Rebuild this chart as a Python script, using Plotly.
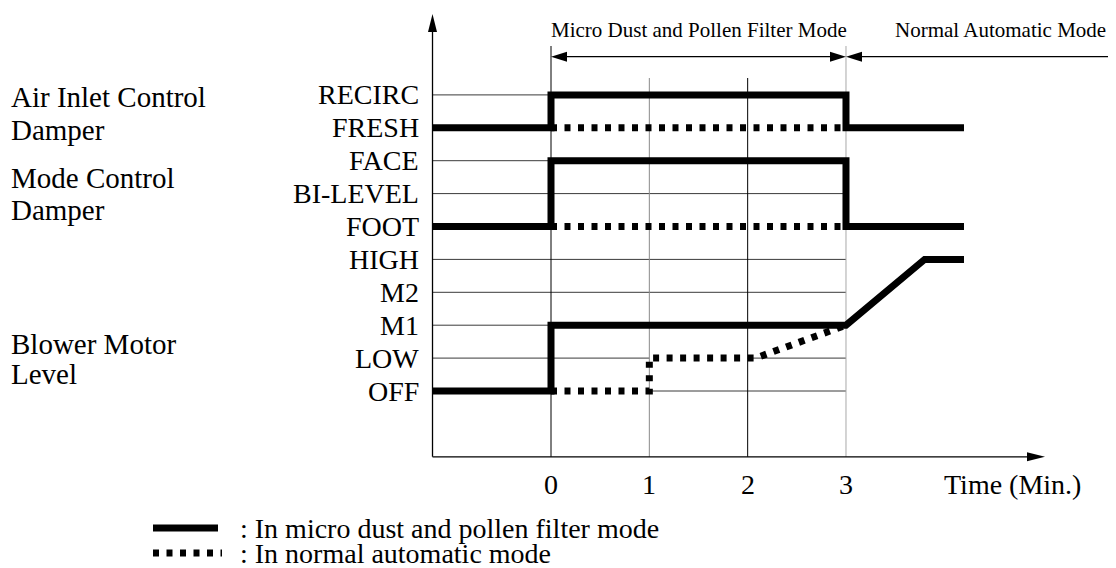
import plotly.graph_objects as go

# ---------------- data ----------------
levels = ["OFF", "LOW", "M1", "M2", "HIGH", "FOOT", "BI-LEVEL", "FACE", "FRESH", "RECIRC"]
time_ticks = [0, 1, 2, 3]
time_tick_labels = ["0", "1", "2", "3"]

group_labels = ["Air Inlet Control", "Damper", "Mode Control", "Damper",
                "Blower Motor", "Level"]

# micro dust and pollen filter mode (solid)
inlet_filter_t = [-1.2, 0, 0, 3, 3, 4.2]
inlet_filter_v = ["FRESH", "FRESH", "RECIRC", "RECIRC", "FRESH", "FRESH"]
mode_filter_t = [-1.2, 0, 0, 3, 3, 4.2]
mode_filter_v = ["FOOT", "FOOT", "FACE", "FACE", "FOOT", "FOOT"]
blower_filter_t = [-1.2, 0, 0, 3, 3.8, 4.2]
blower_filter_v = ["OFF", "OFF", "M1", "M1", "HIGH", "HIGH"]

# normal automatic mode (dotted)
inlet_normal_t = [0, 3]
inlet_normal_v = ["FRESH", "FRESH"]
mode_normal_t = [0, 3]
mode_normal_v = ["FOOT", "FOOT"]
blower_normal_t = [0, 1, 1, 2.08, 3]
blower_normal_v = ["OFF", "OFF", "LOW", "LOW", "M1"]

# thin level guide lines: (level, t_from, t_to)
guide_spans = [("RECIRC", -1.2, 0), ("FACE", -1.2, 0), ("BI-LEVEL", -1.2, 3),
               ("HIGH", -1.2, 3), ("M2", -1.2, 3), ("M1", -1.2, 3),
               ("LOW", -1.2, 1), ("LOW", 2, 3), ("OFF", 1, 3)]

# ---------------- geometry helpers ----------------
W, H = 1116, 568
PAGE_OFF = 8                      # page body margin of the html page
X0_PX, PX_T = 551.0, 98.33        # page pixel of t=0, pixels per minute
Y0_PX, PX_L = 391.0, 32.9         # page pixel of OFF level, pixels per level
T_AXIS = -1.205                   # time where vertical axis sits
L_AXIS = -2.0                     # level where time axis sits

def lv(name):
    return levels.index(name)

def px_t(px):
    return (px - X0_PX) / PX_T

def py_l(py):
    return (Y0_PX - py) / PX_L

def head(tx, ty, direction, length, width):
    hl = width / 2.0
    if direction == "up":
        by = ty - length / PX_L
        return f"M{tx},{ty} L{tx - hl / PX_T},{by} L{tx + hl / PX_T},{by} Z"
    if direction == "right":
        bx = tx - length / PX_T
        return f"M{tx},{ty} L{bx},{ty - hl / PX_L} L{bx},{ty + hl / PX_L} Z"
    if direction == "left":
        bx = tx + length / PX_T
        return f"M{tx},{ty} L{bx},{ty - hl / PX_L} L{bx},{ty + hl / PX_L} Z"

FONT = "Liberation Serif, Times New Roman, serif"
BIG = 28
GROUP = 29
SMALL = 21
THICK = 7
DOT = "6px,7.5px"

fig = go.Figure()

def add_series(ts, vs, dotted):
    fig.add_trace(go.Scatter(
        x=ts, y=[lv(v) for v in vs], mode="lines",
        line=dict(color="black", width=THICK, dash=DOT if dotted else "solid"),
        showlegend=False, hoverinfo="skip"))

add_series(inlet_filter_t, inlet_filter_v, False)
add_series(mode_filter_t, mode_filter_v, False)
add_series(blower_filter_t, blower_filter_v, False)
add_series(inlet_normal_t, inlet_normal_v, True)
add_series(mode_normal_t, mode_normal_v, True)
add_series(blower_normal_t, blower_normal_v, True)

shapes = []
# level guide lines
for name, a, b in guide_spans:
    shapes.append(dict(type="line", xref="x", yref="y", x0=max(a, T_AXIS), x1=b,
                       y0=lv(name), y1=lv(name), layer="below",
                       line=dict(color="#3a3a3a", width=1)))
# time verticals
vert_top = {0: py_l(46), 1: py_l(78), 2: py_l(78), 3: py_l(46)}
vert_col = {0: "#000000", 1: "#8a8a8a", 2: "#000000", 3: "#a8a8a8"}
for t in time_ticks:
    shapes.append(dict(type="line", xref="x", yref="y", x0=t, x1=t,
                       y0=L_AXIS, y1=vert_top[t], layer="below",
                       line=dict(color=vert_col[t], width=1)))
# axes
y_tip = py_l(14)
x_tip = px_t(1045)
shapes.append(dict(type="line", xref="x", yref="y", x0=T_AXIS, x1=T_AXIS,
                   y0=L_AXIS, y1=y_tip - 10 / PX_L, line=dict(color="black", width=1.3)))
shapes.append(dict(type="line", xref="x", yref="y", x0=T_AXIS, x1=x_tip - 10 / PX_T,
                   y0=L_AXIS, y1=L_AXIS, line=dict(color="black", width=1.3)))
shapes.append(dict(type="path", xref="x", yref="y", path=head(T_AXIS, y_tip, "up", 18, 9),
                   fillcolor="black", line=dict(width=0)))
shapes.append(dict(type="path", xref="x", yref="y", path=head(x_tip, L_AXIS, "right", 18, 9),
                   fillcolor="black", line=dict(width=0)))
# mode range arrows
ya = py_l(56.7)
t0, t3 = time_ticks[0], time_ticks[-1]
shapes.append(dict(type="line", xref="x", yref="y", x0=t0 + 8 / PX_T, x1=t3 - 8 / PX_T,
                   y0=ya, y1=ya, line=dict(color="black", width=1.2)))
shapes.append(dict(type="line", xref="x", yref="y", x0=t3 + 8 / PX_T, x1=px_t(W),
                   y0=ya, y1=ya, line=dict(color="black", width=1.2)))
for tip, d in [(t0, "left"), (t3, "right"), (t3, "left")]:
    shapes.append(dict(type="path", xref="x", yref="y", path=head(tip, ya, d, 16, 10),
                       fillcolor="black", line=dict(width=0)))
# legend samples
leg_y1, leg_y2 = py_l(528), py_l(553)
shapes.append(dict(type="line", xref="x", yref="y", x0=px_t(153), x1=px_t(218),
                   y0=leg_y1, y1=leg_y1, line=dict(color="black", width=THICK)))
shapes.append(dict(type="line", xref="x", yref="y", x0=px_t(153), x1=px_t(222),
                   y0=leg_y2, y1=leg_y2, line=dict(color="black", width=THICK, dash=DOT)))

ann = []
def text(x, y, s, size, xanchor="center"):
    ann.append(dict(x=x, y=y, xref="x", yref="y", text=s, showarrow=False,
                    xanchor=xanchor, yanchor="middle",
                    font=dict(family=FONT, size=size, color="black")))

# level labels
for name in levels:
    text(px_t(421), lv(name), name, BIG, "right")
# group labels
group_y_px = [97, 130, 178, 210, 344, 374]
for s, py in zip(group_labels, group_y_px):
    text(px_t(9), py_l(py), s, GROUP, "left")
# time tick labels
for t, s in zip(time_ticks, time_tick_labels):
    text(t, py_l(484), s, BIG)
text(px_t(1012), py_l(484), "Time (Min.)", BIG)
# mode headers
text((t0 + t3) / 2, py_l(30), "Micro Dust and Pollen Filter Mode", SMALL)
text(px_t(1000), py_l(30), "Normal Automatic Mode", SMALL)
# legend texts
text(px_t(238), leg_y1, ": In micro dust and pollen filter mode", BIG, "left")
text(px_t(238), leg_y2, ": In normal automatic mode", BIG, "left")

# the page body adds an offset; size the figure to the remaining window area
fig.update_layout(
    width=W - PAGE_OFF, height=H - PAGE_OFF, margin=dict(l=0, r=0, t=0, b=0),
    paper_bgcolor="white", plot_bgcolor="white",
    xaxis=dict(range=[px_t(PAGE_OFF), px_t(W)], visible=False, fixedrange=True),
    yaxis=dict(range=[py_l(H), py_l(PAGE_OFF)], visible=False, fixedrange=True),
    shapes=shapes, annotations=ann, showlegend=False,
)

fig.write_html("out.html")
